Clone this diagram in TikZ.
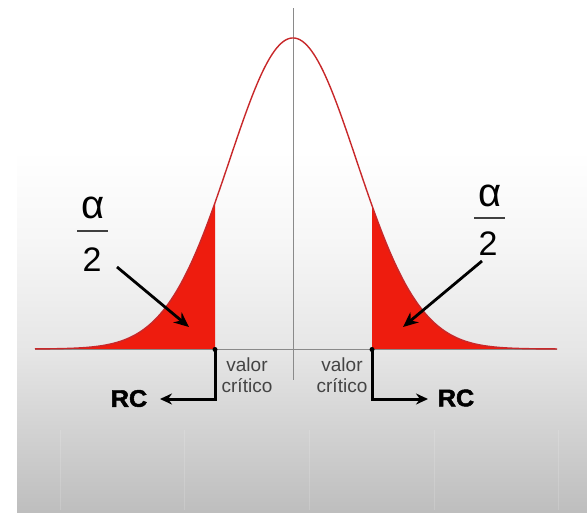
\documentclass[tikz,border=0pt]{standalone}
\usepackage{fontspec}
\setmainfont{Liberation Sans}
\newfontfamily\rcfont{Liberation Sans}[BoldFeatures={FakeBold=2}]
\usetikzlibrary{arrows.meta}
\definecolor{tailred}{HTML}{EE1C0E}
\definecolor{curvered}{HTML}{C8282A}
\definecolor{axisgray}{HTML}{8A8A8A}
\definecolor{labgray}{HTML}{444444}
\definecolor{bgT}{HTML}{F6F6F6}
\definecolor{bgA}{HTML}{E6E6E6}
\definecolor{bgB}{HTML}{BEBEBE}
\tikzset{
  gauss/.style={curvered, line width=1.4pt},
  axisline/.style={axisgray, line width=1.2pt},
  pointer/.style={black, line width=2.8pt, -{Stealth[length=15pt,width=13pt]}},
  rcarrow/.style={black, line width=3pt, -{Stealth[length=12pt,width=11pt]}},
  alphatxt/.style={inner sep=0pt, font=\fontsize{40}{44}\selectfont},
  twotxt/.style={inner sep=0pt, font=\fontsize{34}{38}\selectfont},
  vclabel/.style={inner sep=0pt, align=center, text=labgray, font=\fontsize{19}{21}\selectfont},
  rclabel/.style={inner sep=0pt, font=\fontsize{24}{26}\rcfont\bfseries},
  faint/.style={white, opacity=0.15, line width=0.8pt}
}
\newcommand{\gdens}[1]{349-311*exp(-0.5*((#1-293)/63.5)^2)}
\begin{document}
\begin{tikzpicture}[x=1pt,y=-1pt]
\useasboundingbox (0,0) rectangle (587,515);
\fill[white] (0,0) rectangle (587,515);
% background gradient
\shade[top color=white, bottom color=bgT] (17,150) rectangle (587,243.5);
\shade[top color=bgT, bottom color=bgA] (17,243) rectangle (587,350.5);
\shade[top color=bgA, bottom color=bgB] (17,350) rectangle (587,512);
\foreach \xx in {60,184,309,434,558} \draw[faint] (\xx,430) -- (\xx,510);
% tails
\fill[tailred] (35,349) -- plot[domain=35:215, samples=120] (\x, {\gdens{\x}}) -- (215,349) -- cycle;
\fill[tailred] (372,349) -- plot[domain=372:557, samples=120] (\x, {\gdens{\x}}) -- (557,349) -- cycle;
% axes
\coordinate (ctop) at (293.5,8);
\coordinate (cbot) at (293.5,380);
\draw[axisline] (ctop) -- (cbot);
\coordinate (ax0) at (35,349.5);
\coordinate (ax1) at (557,349.5);
\draw[axisline] (ax0) -- (ax1);
% curve
\draw[gauss] plot[domain=35:557, samples=300] (\x, {\gdens{\x}});
% critical points
\coordinate (cl) at (215,349.5);
\coordinate (cr) at (372,349.5);
\fill[black] (cl) circle (2.5);
\fill[black] (cr) circle (2.5);
% alpha/2 left
\node[alphatxt] (aL) at (93,208) {α};
\coordinate (barL0) at (77,231);
\coordinate (barL1) at (108,231);
\draw[black!75, line width=2.2pt] (barL0) -- (barL1);
\node[twotxt] (dL) at (92,260) {2};
% alpha/2 right
\node[alphatxt] (aR) at (490,196) {α};
\coordinate (barR0) at (474,218);
\coordinate (barR1) at (505,218);
\draw[black!75, line width=2.2pt] (barR0) -- (barR1);
\node[twotxt] (dR) at (488,244) {2};
% pointers
\coordinate (sL) at (117,267);
\coordinate (tL) at (189,327);
\draw[pointer] (sL) -- (tL);
\coordinate (sR) at (482,261);
\coordinate (tR) at (403,327);
\draw[pointer] (sR) -- (tR);
% valor critico labels
\node[vclabel, anchor=north] (vL) at (247,358) {valor\\crítico};
\node[vclabel, anchor=north] (vR) at (342,358) {valor\\crítico};
% RC labels
\node[rclabel] (rcL) at (129,398.5) {\scalebox{1.05}[1]{RC}};
\node[rclabel] (rcR) at (456,398) {\scalebox{1.05}[1]{RC}};
\coordinate (eL) at (160,399);
\coordinate (eR) at (428,399);
\draw[rcarrow] (cl) |- (eL);
\draw[rcarrow] (cr) |- (eR);
\end{tikzpicture}
\end{document}
